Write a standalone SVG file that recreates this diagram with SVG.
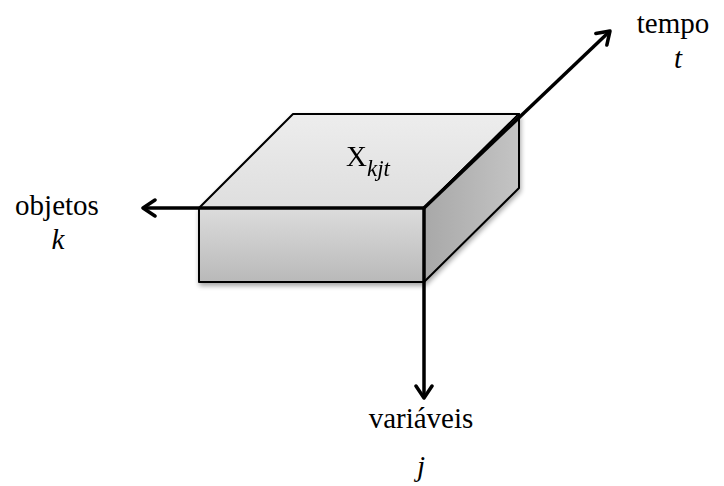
<svg xmlns="http://www.w3.org/2000/svg" width="724" height="486" viewBox="0 0 724 486">
<defs>
<linearGradient id="gTop" x1="0" y1="0" x2="0" y2="1"><stop offset="0" stop-color="#ededed"/><stop offset="1" stop-color="#dedede"/></linearGradient>
<linearGradient id="gFront" x1="0" y1="0" x2="0" y2="1"><stop offset="0" stop-color="#dcdcdc"/><stop offset="1" stop-color="#b9b9b9"/></linearGradient>
<linearGradient id="gSide" x1="0" y1="0" x2="1" y2="0"><stop offset="0" stop-color="#a8a8a8"/><stop offset="1" stop-color="#c4c4c4"/></linearGradient>
<filter id="sh" x="-10%" y="-10%" width="130%" height="130%"><feGaussianBlur in="SourceAlpha" stdDeviation="2.5"/><feOffset dx="1" dy="3"/><feComponentTransfer><feFuncA type="linear" slope="0.35"/></feComponentTransfer><feMerge><feMergeNode/><feMergeNode in="SourceGraphic"/></feMerge></filter>
<marker id="arr" viewBox="0 0 20 20" refX="16" refY="10" markerWidth="20" markerHeight="20" markerUnits="userSpaceOnUse" orient="auto"><path d="M4,2 L16,10 L4,18" fill="none" stroke="#000" stroke-width="3.5" stroke-linecap="round" stroke-linejoin="round"/></marker>
</defs>
<style>
.face{stroke:#000;stroke-width:2;stroke-linejoin:round}
.axis{fill:none;stroke:#000;stroke-width:3.5;marker-end:url(#arr)}
text{font-family:'Liberation Serif','DejaVu Serif',serif;font-size:29px;fill:#000}
.it{font-style:italic}
</style>
<g id="cube" filter="url(#sh)">
<polygon class="face" fill="url(#gTop)" points="199,208 293,114 519,114 424,208"/>
<polygon class="face" fill="url(#gSide)" points="424,208 519,114 519,188 424,282"/>
<rect class="face" fill="url(#gFront)" x="199" y="208" width="225" height="74"/>
<text x="346" y="166" font-size="30" font-family="Liberation Serif, serif">X<tspan class="it" font-size="23" dy="10">kjt</tspan></text>
</g>
<g id="connectors">
<path class="axis" d="M424,208 L610,31"/>
<path class="axis" d="M424,208 L143,208"/>
<path class="axis" d="M424,208 L424,398"/>
</g>
<g id="tempo"><text x="673" y="33" text-anchor="middle" font-family="Liberation Serif, serif">tempo</text><text class="it" x="678" y="68" text-anchor="middle" font-family="Liberation Serif, serif">t</text></g>
<g id="objetos"><text x="57" y="215" text-anchor="middle" font-family="Liberation Serif, serif">objetos</text><text class="it" x="58" y="249" text-anchor="middle" font-family="Liberation Serif, serif">k</text></g>
<g id="variaveis"><text x="421" y="428" text-anchor="middle" font-family="Liberation Serif, serif">variáveis</text><text class="it" x="421" y="476" text-anchor="middle" font-family="Liberation Serif, serif">j</text></g>
</svg>
